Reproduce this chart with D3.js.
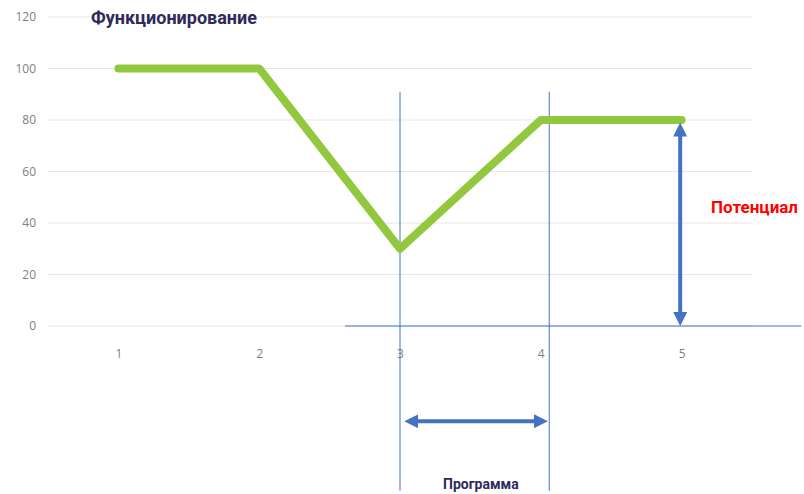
<!DOCTYPE html>
<html>
<head>
<meta charset="utf-8">
<script src="https://cdn.jsdelivr.net/npm/d3@7"></script>
<style>
  body { margin: 0; background: #fff; }
  svg { display: block; }
</style>
</head>
<body>
<svg width="804" height="494"></svg>
<script>
// ---- Dados
const categories = [1, 2, 3, 4, 5];
const values = [100, 100, 30, 80, 80];
const yTicks = [0, 20, 40, 60, 80, 100, 120];

// annotations, in data units
const programLines = [3.0, 4.06];
const programArrow = { from: 3.03, to: 4.05, y: -37 };
const potentialArrow = { x: 4.99, from: 79, to: 0 };

const svg = d3.select('svg');
const margens = { left: 48, right: 52, top: 17, bottom: 168 };
const W = 804, H = 494;

// ---- Escalas
const mapX = d3.scaleLinear().domain([0.5, 5.5]).range([margens.left, W - margens.right]);
const mapY = d3.scaleLinear().domain([0, 120]).range([H - margens.bottom, margens.top]);

const blue = '#4472c4';
const green = '#92c83e';
const headLen = 10;

// ---- Grade
svg.append('g')
    .selectAll('line')
    .data(yTicks)
    .join('line')
    .attr('x1', mapX(0.5))
    .attr('x2', mapX(5.5))
    .attr('y1', d => mapY(d))
    .attr('y2', d => mapY(d))
    .attr('stroke', '#e6e6e6')
    .attr('stroke-width', 1);

// ---- Eixos
const yAxis = d3.axisLeft(mapY).tickValues(yTicks).tickSize(0).tickPadding(12);
svg.append('g')
    .attr('transform', `translate(${margens.left}, 0)`)
    .call(yAxis)
    .call(g => g.select('.domain').remove())
    .selectAll('text')
    .attr('fill', '#808080')
    .style('font-family', 'Open Sans, sans-serif')
    .style('font-size', '12px');

const xAxis = d3.axisBottom(mapX).tickValues(categories).tickFormat(d3.format('d')).tickSize(0).tickPadding(23);
svg.append('g')
    .attr('transform', `translate(0, ${mapY(0)})`)
    .call(xAxis)
    .call(g => g.select('.domain').remove())
    .selectAll('text')
    .attr('fill', '#808080')
    .style('font-family', 'Open Sans, sans-serif')
    .style('font-size', '12px');

// ---- Marcadores de seta
const defs = svg.append('defs');
defs.append('marker')
    .attr('id', 'head')
    .attr('markerUnits', 'userSpaceOnUse')
    .attr('viewBox', '0 0 14 14')
    .attr('refX', 14 - headLen)
    .attr('refY', 7)
    .attr('markerWidth', 14)
    .attr('markerHeight', 14)
    .attr('orient', 'auto-start-reverse')
    .append('path')
    .attr('d', 'M0,0 L14,7 L0,14 Z')
    .attr('fill', blue);

// ---- Linhas do programa
svg.append('g')
    .selectAll('line')
    .data(programLines)
    .join('line')
    .attr('x1', d => mapX(d))
    .attr('x2', d => mapX(d))
    .attr('y1', mapY(91))
    .attr('y2', mapY(-64))
    .attr('stroke', blue)
    .attr('stroke-width', 1);

// linha base azul
svg.append('line')
    .attr('x1', mapX(2.61))
    .attr('x2', mapX(5.85))
    .attr('y1', mapY(0))
    .attr('y2', mapY(0))
    .attr('stroke', blue)
    .attr('stroke-width', 1.2);

// ---- Serie
svg.append('path')
    .datum(values)
    .attr('fill', 'none')
    .attr('stroke', green)
    .attr('stroke-width', 8)
    .attr('stroke-linecap', 'round')
    .attr('stroke-linejoin', 'round')
    .attr('d', d3.line()
        .x((d, i) => mapX(categories[i]))
        .y(d => mapY(d)));

// ---- Setas
svg.append('line')
    .attr('x1', mapX(programArrow.from) + headLen)
    .attr('x2', mapX(programArrow.to) - headLen)
    .attr('y1', mapY(programArrow.y))
    .attr('y2', mapY(programArrow.y))
    .attr('stroke', blue)
    .attr('stroke-width', 4)
    .attr('marker-start', 'url(#head)')
    .attr('marker-end', 'url(#head)');

svg.append('line')
    .attr('x1', mapX(potentialArrow.x))
    .attr('x2', mapX(potentialArrow.x))
    .attr('y1', mapY(potentialArrow.from) + headLen)
    .attr('y2', mapY(potentialArrow.to) - headLen)
    .attr('stroke', blue)
    .attr('stroke-width', 4)
    .attr('marker-start', 'url(#head)')
    .attr('marker-end', 'url(#head)');

// ---- Textos
svg.append('text')
    .attr('x', 91)
    .attr('y', 24)
    .attr('fill', '#2e2a5a')
    .style('font-family', 'Roboto, sans-serif')
    .style('font-weight', 'bold')
    .style('font-size', '18px')
    .text('Функционирование');

svg.append('text')
    .attr('x', 711)
    .attr('y', 213)
    .attr('fill', '#ff0000')
    .style('font-family', 'Roboto, sans-serif')
    .style('font-weight', 'bold')
    .style('font-size', '17px')
    .text('Потенциал');

svg.append('text')
    .attr('x', 443)
    .attr('y', 489)
    .attr('fill', '#2e2a5a')
    .style('font-family', 'Roboto, sans-serif')
    .style('font-weight', 'bold')
    .style('font-size', '14px')
    .text('Программа');
</script>
</body>
</html>
